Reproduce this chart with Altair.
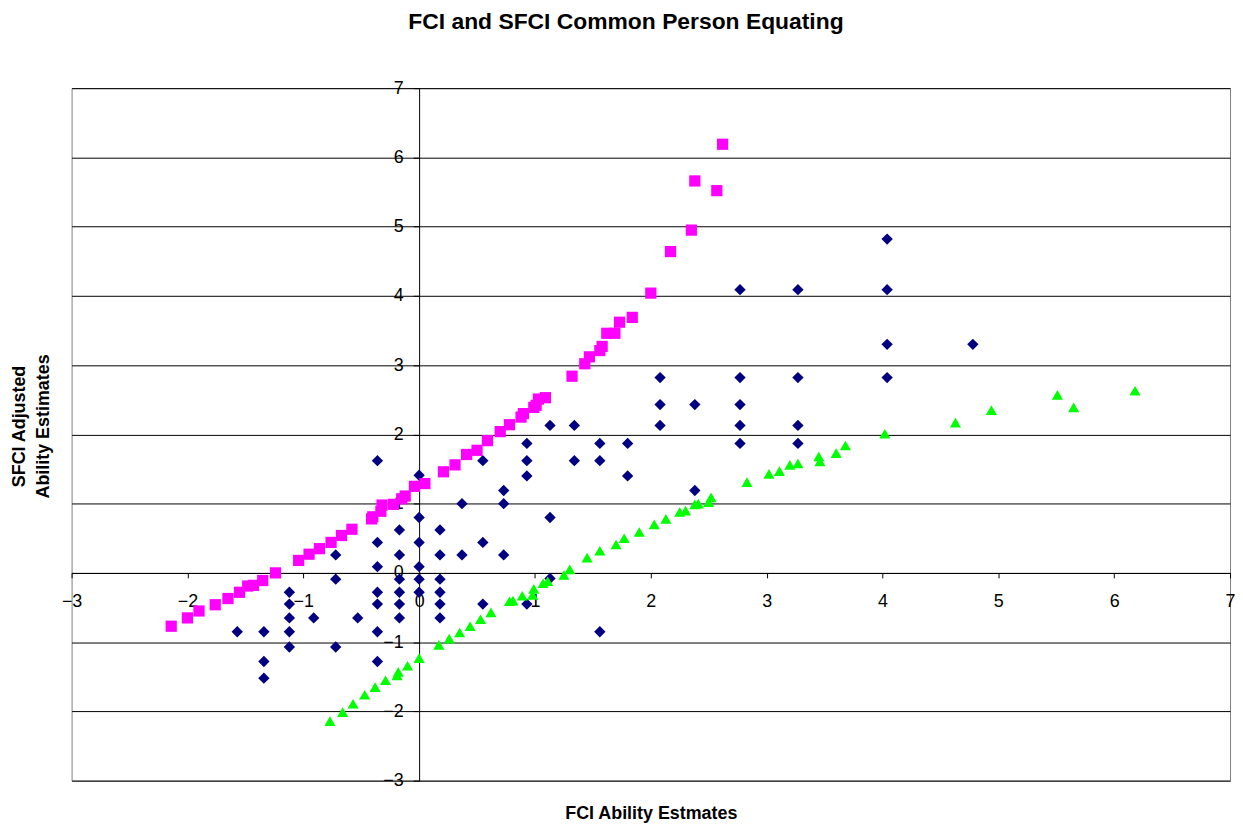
import altair as alt
import pandas as pd

# ---------------- data ----------------
blue_x = [-1.57,
          -1.34, -1.34, -1.34,
          -1.12, -1.12, -1.12, -1.12, -1.12,
          -0.91,
          -0.72, -0.72, -0.72,
          -0.53,
          -0.36, -0.36, -0.36, -0.36, -0.36, -0.36, -0.36,
          -0.17, -0.17, -0.17, -0.17, -0.17, -0.17,
          0.00, 0.00, 0.00, 0.00, 0.00, 0.00,
          0.18, 0.18, 0.18, 0.18, 0.18, 0.18,
          0.37, 0.37,
          0.55, 0.55, 0.55,
          0.73, 0.73, 0.73,
          0.93, 0.93, 0.93, 0.93,
          1.13, 1.13, 1.13,
          1.34, 1.34,
          1.56, 1.56, 1.56,
          1.80, 1.80,
          2.08, 2.08, 2.08,
          2.38, 2.38,
          2.77, 2.77, 2.77, 2.77, 2.77,
          3.27, 3.27, 3.27, 3.27,
          4.04, 4.04, 4.04, 4.04,
          4.78]
blue_y = [-0.85,
          -0.85, -1.28, -1.52,
          -0.28, -0.45, -0.65, -0.85, -1.07,
          -0.65,
          0.26, -0.09, -1.07,
          -0.65,
          1.62, 0.44, 0.09, -0.28, -0.45, -0.85, -1.28,
          0.62, 0.26, -0.09, -0.28, -0.45, -0.65,
          1.41, 0.80, 0.44, 0.09, -0.09, -0.28,
          0.62, 0.26, -0.09, -0.28, -0.45, -0.65,
          1.00, 0.26,
          1.62, 0.44, -0.45,
          1.19, 1.00, 0.26,
          1.87, 1.62, 1.40, -0.45,
          2.13, 0.80, -0.08,
          2.13, 1.62,
          1.87, 1.62, -0.85,
          1.87, 1.40,
          2.82, 2.43, 2.13,
          2.43, 1.19,
          4.09, 2.82, 2.43, 2.13, 1.87,
          4.09, 2.82, 2.13, 1.87,
          4.82, 4.09, 3.30, 2.82,
          3.30]

pink_x = [-2.14, -2.00, -1.90, -1.76, -1.65, -1.55, -1.48, -1.43, -1.35, -1.24,
          -1.04, -0.95, -0.86, -0.76, -0.67, -0.58, -0.41, -0.40, -0.33, -0.32,
          -0.22, -0.15, -0.12, -0.04, 0.05, 0.21, 0.31, 0.41, 0.50, 0.59,
          0.70, 0.78, 0.88, 0.90, 0.99, 1.01, 1.03, 1.09, 1.32, 1.43,
          1.47, 1.56, 1.58, 1.62, 1.69, 1.73, 1.84, 2.00, 2.17, 2.35,
          2.38, 2.57, 2.62]
pink_y = [-0.77, -0.65, -0.55, -0.46, -0.37, -0.28, -0.19, -0.18, -0.11, 0.00,
          0.18, 0.27, 0.35, 0.44, 0.54, 0.63, 0.78, 0.81, 0.89, 0.98,
          0.99, 1.07, 1.11, 1.25, 1.29, 1.46, 1.56, 1.71, 1.77, 1.91,
          2.04, 2.14, 2.25, 2.30, 2.39, 2.42, 2.51, 2.53, 2.84, 3.02,
          3.12, 3.21, 3.27, 3.46, 3.46, 3.62, 3.69, 4.04, 4.64, 4.95,
          5.66, 5.52, 6.19]

green_x = [-0.77, -0.66, -0.57, -0.47, -0.38, -0.29, -0.19, -0.18, -0.10, 0.00,
           0.17, 0.26, 0.35, 0.44, 0.53, 0.62, 0.78, 0.81, 0.89, 0.98,
           0.99, 1.07, 1.11, 1.25, 1.30, 1.45, 1.56, 1.70, 1.77, 1.90,
           2.03, 2.13, 2.25, 2.30, 2.38, 2.41, 2.50, 2.52, 2.83, 3.02,
           3.11, 3.20, 3.27, 3.45, 3.46, 3.60, 3.68, 4.02, 4.63, 4.94,
           5.65, 5.51, 6.18]
green_y = [-2.14, -2.01, -1.89, -1.76, -1.65, -1.55, -1.48, -1.43, -1.34, -1.23,
           -1.04, -0.95, -0.86, -0.77, -0.67, -0.57, -0.41, -0.40, -0.33, -0.32,
           -0.23, -0.15, -0.12, -0.03, 0.05, 0.22, 0.32, 0.41, 0.50, 0.59,
           0.70, 0.78, 0.88, 0.90, 0.99, 1.00, 1.02, 1.09, 1.31, 1.43,
           1.47, 1.56, 1.58, 1.68, 1.61, 1.73, 1.84, 2.01, 2.17, 2.35,
           2.39, 2.57, 2.63]

series_names = ["FCI vs SFCI", "SFCI equated", "FCI equated"]
series_colors = ["#000080", "#FF00FF", "#00FF00"]
series_shapes = ["diamond", "square", "triangle-up"]
series_sizes = [130, 125, 170]

x_ticks = list(range(-3, 8))
y_ticks = list(range(-3, 8))
x_domain = [-3, 7]
y_domain = [-3, 7]

title_text = "FCI and SFCI Common Person Equating"
x_title = "FCI Ability Estmates"
y_title = ["SFCI Adjusted", "Ability Estimates"]

# ---------------- table ----------------
rows = []
for k, (name, xs, ys) in enumerate(zip(series_names, [blue_x, pink_x, green_x], [blue_y, pink_y, green_y])):
    for a, b in zip(xs, ys):
        rows.append({"x": a, "y": b, "series": name, "order": k})
df = pd.DataFrame(rows)

# ---------------- layout ----------------
W, H = 1166, 697
FONT = "Liberation Sans"
# axes cross at zero: offsets derived from the domain
y_axis_shift = W * (0 - x_domain[0]) / (x_domain[1] - x_domain[0])
x_axis_shift = H * (0 - y_domain[0]) / (y_domain[1] - y_domain[0])

x_enc = alt.X(
    "x:Q",
    scale=alt.Scale(domain=x_domain, nice=False, zero=False),
    axis=alt.Axis(
        orient="bottom",
        offset=-x_axis_shift,
        values=x_ticks,
        grid=False,
        domain=True, domainColor="black", domainWidth=1,
        ticks=True, tickColor="black", tickSize=5, tickWidth=1,
        labelFont=FONT, labelFontSize=18, labelColor="black",
        labelPadding=15, labelFlush=False, labelOverlap=False,
        title=x_title, titleFont=FONT, titleFontSize=18, titleFontWeight="bold",
        titleColor="black", titleBaseline="middle",
        titleY=242,
    ),
)
y_enc = alt.Y(
    "y:Q",
    scale=alt.Scale(domain=y_domain, nice=False, zero=False),
    axis=alt.Axis(
        orient="left",
        offset=-y_axis_shift,
        values=y_ticks,
        grid=True, gridColor="black", gridWidth=1, gridOpacity=1,
        domain=True, domainColor="black", domainWidth=1,
        ticks=True, tickColor="black", tickSize=6, tickWidth=1,
        labelFont=FONT, labelFontSize=18, labelColor="black",
        labelPadding=10, labelFlush=False, labelOverlap=False,
        title=y_title, titleFont=FONT, titleFontSize=18, titleFontWeight="bold",
        titleColor="black", titleAngle=270, titleBaseline="middle",
        titleAlign="center", titleLineHeight=24,
        titleX=-402, titleY=340,
    ),
)

chart = (
    alt.Chart(df)
    .mark_point(filled=True, opacity=1, strokeWidth=0)
    .encode(
        x=x_enc,
        y=y_enc,
        color=alt.Color("series:N", scale=alt.Scale(domain=series_names, range=series_colors), legend=None),
        shape=alt.Shape("series:N", scale=alt.Scale(domain=series_names, range=series_shapes), legend=None),
        size=alt.Size("series:N", scale=alt.Scale(domain=series_names, range=series_sizes), legend=None),
        order=alt.Order("order:Q"),
    )
    .properties(
        width=W,
        height=H,
        title=alt.TitleParams(
            text=title_text, font=FONT, fontSize=23, fontWeight="bold",
            color="black", anchor="middle", dx=-25, offset=46,
        ),
        autosize=alt.AutoSizeParams(type="none"),
        padding={"left": 64, "top": 78, "right": 5, "bottom": 46},
        background="white",
    )
    .configure_view(stroke="#808080", strokeWidth=1)
)

chart.save("out.html", embed_options={"renderer": "svg", "actions": False})
